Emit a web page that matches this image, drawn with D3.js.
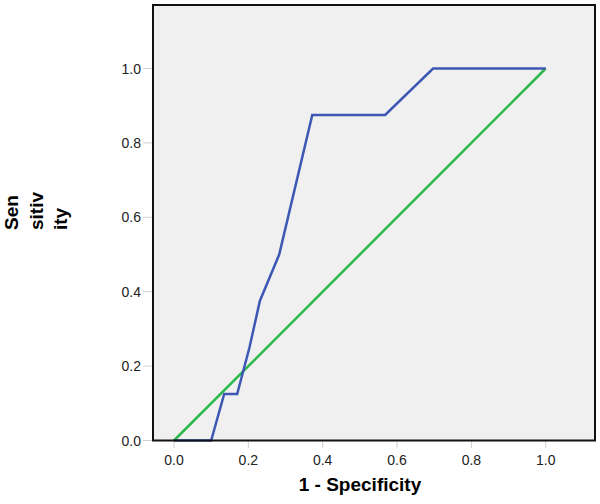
<!DOCTYPE html>
<html>
<head>
<meta charset="utf-8">
<script src="https://cdn.jsdelivr.net/npm/d3@7"></script>
<style>
  body { margin: 0; background: #fff; }
  text { font-family: "Liberation Sans", Arial, sans-serif; }
</style>
</head>
<body>
<div id="chart"></div>
<script>
// ROC curve points (1 - specificity, sensitivity)
var rocX = [0, 0.1, 0.135, 0.17, 0.203, 0.231, 0.283, 0.372, 0.568, 0.697, 1];
var rocY = [0, 0, 0.125, 0.125, 0.25, 0.375, 0.5, 0.875, 0.875, 1, 1];
// reference diagonal
var refX = [0, 1];
var refY = [0, 1];
var ticks = [0, 0.2, 0.4, 0.6, 0.8, 1.0];

var width = 600, height = 504;
var box = {left: 153, right: 595, top: 5, bottom: 440.5};

var svg = d3.select("#chart").append("svg")
    .attr("width", width).attr("height", height)

var x = d3.scaleLinear().domain([0, 1]).range([174, 545.7])
var y = d3.scaleLinear().domain([0, 1]).range([440.5, 68.5])

// plot background
svg.append("rect")
    .attr("x", box.left).attr("y", box.top)
    .attr("width", box.right - box.left).attr("height", box.bottom - box.top)
    .attr("fill", "#f0f0f0")

// tick marks
svg.selectAll(".ytick").data(ticks).enter().append("line")
    .attr("x1", 143).attr("x2", box.left)
    .attr("y1", function(d){ return y(d) }).attr("y2", function(d){ return y(d) })
    .attr("stroke", "#cfcfcf").attr("stroke-width", 1)

svg.selectAll(".xtick").data(ticks).enter().append("line")
    .attr("y1", box.bottom).attr("y2", 448)
    .attr("x1", function(d){ return x(d) }).attr("x2", function(d){ return x(d) })
    .attr("stroke", "#cfcfcf").attr("stroke-width", 1)

// tick labels
svg.selectAll(".ylab").data(ticks).enter().append("text")
    .attr("x", 141).attr("y", function(d){ return y(d) + 5 })
    .attr("text-anchor", "end").attr("font-size", 14).attr("fill", "#222")
    .text(function(d){ return d3.format(".1f")(d) })

svg.selectAll(".xlab").data(ticks).enter().append("text")
    .attr("x", function(d){ return x(d) }).attr("y", 465)
    .attr("text-anchor", "middle").attr("font-size", 14).attr("fill", "#222")
    .text(function(d){ return d3.format(".1f")(d) })

// axis titles
svg.append("text")
    .attr("x", 360).attr("y", 491)
    .attr("text-anchor", "middle").attr("font-size", 19).attr("font-weight", "bold")
    .text("1 - Specificity")

var yTitle = ["Sen", "sitiv", "ity"];
svg.selectAll(".ytitle").data(yTitle).enter().append("text")
    .attr("transform", function(d, i){ return "translate(" + (18 + i * 24.5) + ",230) rotate(-90)" })
    .attr("font-size", 19).attr("font-weight", "bold")
    .text(function(d){ return d })

var line = d3.line()
    .x(function(d){ return x(d[0]) })
    .y(function(d){ return y(d[1]) })

svg.append("path")
    .datum(refX.map(function(v, i){ return [v, refY[i]] }))
    .attr("d", line).attr("fill", "none")
    .attr("stroke", "#2db84a").attr("stroke-width", 2.5)

svg.append("path")
    .datum(rocX.map(function(v, i){ return [v, rocY[i]] }))
    .attr("d", line).attr("fill", "none")
    .attr("stroke", "#3d58b4").attr("stroke-width", 2.5)
    .attr("stroke-linejoin", "miter")

// frame
svg.append("rect")
    .attr("x", box.left).attr("y", box.top)
    .attr("width", box.right - box.left).attr("height", box.bottom - box.top)
    .attr("fill", "none").attr("stroke", "#111").attr("stroke-width", 2)
</script>
</body>
</html>
